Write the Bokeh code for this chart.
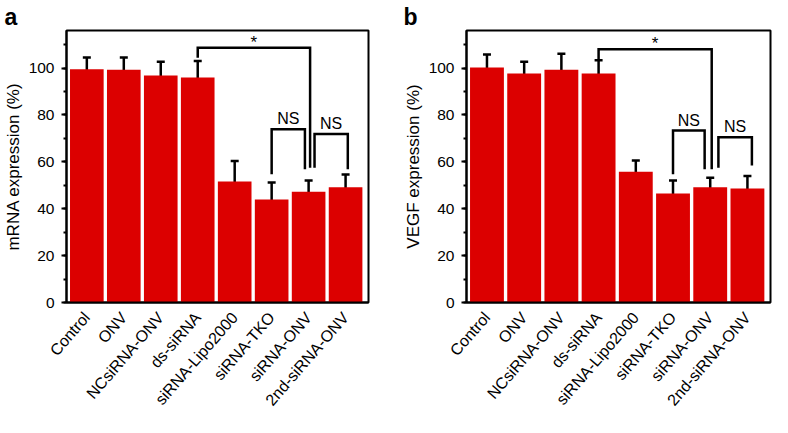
import math
from bokeh.plotting import figure
from bokeh.models import (ColumnDataSource, Whisker, TeeHead, FixedTicker,
                          SingleIntervalTicker, Range1d)
from bokeh.layouts import row
from bokeh.core.properties import value
from bokeh.embed import file_html
from bokeh.resources import INLINE

# ---------------- data ----------------
categories = ["Control", "ONV", "NCsiRNA-ONV", "ds-siRNA", "siRNA-Lipo2000",
              "siRNA-TKO", "siRNA-ONV", "2nd-siRNA-ONV"]

mrna_mean = [99.5, 99.3, 96.8, 96.0, 51.6, 43.9, 47.2, 49.2]
mrna_err = [5.0, 5.2, 5.9, 7.0, 8.7, 7.3, 4.8, 5.4]

vegf_mean = [100.2, 97.7, 99.3, 97.7, 55.8, 46.5, 49.1, 48.6]
vegf_err = [5.6, 5.0, 6.8, 5.6, 4.8, 5.5, 4.1, 5.4]

y_tick_interval = 20
y_max = 116

# significance brackets (panel a)
a_br_x1 = [3.0, 5.0, 6.16]
a_br_x2 = [6.04, 5.9, 7.06]
a_br_top = [108.6, 73.9, 71.9]
a_br_end1 = [104.4, 54.7, 57.5]
a_br_end2 = [57.5, 56.8, 56.8]
a_br_label = ["*", "NS", "NS"]

# significance brackets (panel b)
b_br_x1 = [3.0, 5.0, 6.22]
b_br_x2 = [6.04, 5.85, 7.12]
b_br_top = [108.0, 73.3, 70.5]
b_br_end1 = [103.5, 54.7, 57.5]
b_br_end2 = [56.8, 56.8, 58.4]
b_br_label = ["*", "NS", "NS"]

FONT = "Liberation Sans"
RED = "#DC0000"
HEIGHT = 417
TOP = 29
BOTTOM = 112
X0, X1 = -0.55, 7.62


def make_panel(letter, ylabel, means, errs, bx1, bx2, btop, be1, be2, blab,
               width, left, right, title_offset):
    p = figure(width=width, height=HEIGHT,
               x_range=Range1d(X0, X1), y_range=Range1d(0, y_max),
               output_backend="svg", toolbar_location=None,
               min_border_left=left, min_border_right=right,
               min_border_top=TOP, min_border_bottom=BOTTOM)
    p.background_fill_color = "white"
    p.border_fill_color = "white"
    p.outline_line_color = "black"
    p.outline_line_width = 2
    p.xgrid.visible = False
    p.ygrid.visible = False
    pxy = (HEIGHT - TOP - BOTTOM) / y_max

    xs = list(range(len(categories)))
    src = ColumnDataSource(dict(
        x=xs, top=means,
        upper=[m + e for m, e in zip(means, errs)],
        lower=[m - e for m, e in zip(means, errs)]))
    p.vbar(x="x", top="top", width=0.91, source=src, fill_color=RED,
           line_color=None)

    w = Whisker(base="x", upper="upper", lower="lower", source=src,
                line_color="black", line_width=2.5,
                upper_head=TeeHead(size=8, line_width=2.5, line_color="black"),
                lower_head=TeeHead(size=8, line_width=2.5, line_color="black"))
    p.add_layout(w)

    # significance brackets
    bxs = [[a, a, b, b] for a, b in zip(bx1, bx2)]
    bys = [[e1, t, t, e2] for e1, t, e2 in zip(be1, btop, be2)]
    p.multi_line(xs=bxs, ys=bys, line_color="black", line_width=2.5,
                 line_join="miter")

    mids = [(a + b) / 2 for a, b in zip(bx1, bx2)]
    ns_idx = [i for i, t in enumerate(blab) if t != "*"]
    st_idx = [i for i, t in enumerate(blab) if t == "*"]
    p.text(x=[mids[i] for i in ns_idx],
           y=[btop[i] + 2 / pxy for i in ns_idx],
           text=[blab[i] for i in ns_idx], text_font=value(FONT),
           text_font_size="16px", text_align="center",
           text_baseline="bottom", text_color="black")
    p.text(x=[mids[i] for i in st_idx],
           y=[btop[i] - 4 / pxy for i in st_idx],
           text=[blab[i] for i in st_idx], text_font=value(FONT),
           text_font_size="17px", text_align="center",
           text_baseline="bottom", text_color="black")

    # y axis
    ya = p.yaxis[0]
    ya.ticker = SingleIntervalTicker(interval=y_tick_interval, num_minor_ticks=2)
    ya.axis_label = ylabel
    ya.axis_label_text_font = FONT
    ya.axis_label_text_font_size = "17px"
    ya.axis_label_text_font_style = "normal"
    ya.axis_label_text_color = "black"
    ya.axis_label_standoff = 3
    ya.major_label_text_font = FONT
    ya.major_label_text_font_size = "15.5px"
    ya.major_label_text_color = "black"
    ya.major_label_standoff = 7
    ya.axis_line_width = 2
    ya.axis_line_color = "black"
    ya.major_tick_line_width = 2
    ya.minor_tick_line_width = 2
    ya.major_tick_line_color = "black"
    ya.minor_tick_line_color = "black"
    ya.major_tick_in = 0
    ya.major_tick_out = 5
    ya.minor_tick_in = 0
    ya.minor_tick_out = 3

    # x axis with rotated category names
    xa = p.xaxis[0]
    xa.ticker = FixedTicker(ticks=xs)
    xa.major_label_overrides = {i: c for i, c in enumerate(categories)}
    xa.major_label_orientation = math.radians(49)
    xa.major_label_text_font = FONT
    xa.major_label_text_font_size = "16px"
    xa.major_label_text_color = "black"
    xa.major_label_standoff = 12
    xa.axis_line_width = 2
    xa.axis_line_color = "black"
    xa.major_tick_line_color = None
    xa.minor_tick_line_color = None
    xa.major_tick_out = 0
    xa.major_tick_in = 0

    # panel letter
    p.title.text = letter
    p.title.align = "left"
    p.title.offset = title_offset
    p.title.text_font = FONT
    p.title.text_font_size = "23px"
    p.title.text_font_style = "bold"
    p.title.text_color = "black"
    p.title.standoff = 2
    return p


pa = make_panel("a", "mRNA expression (%)", mrna_mean, mrna_err,
                a_br_x1, a_br_x2, a_br_top, a_br_end1, a_br_end2, a_br_label,
                width=382, left=62, right=14, title_offset=-62)
pb = make_panel("b", "VEGF expression (%)", vegf_mean, vegf_err,
                b_br_x1, b_br_x2, b_br_top, b_br_end1, b_br_end2, b_br_label,
                width=390, left=84, right=2, title_offset=-63)

layout = row(pa, pb)
open("out.html", "w").write(file_html(layout, INLINE))
